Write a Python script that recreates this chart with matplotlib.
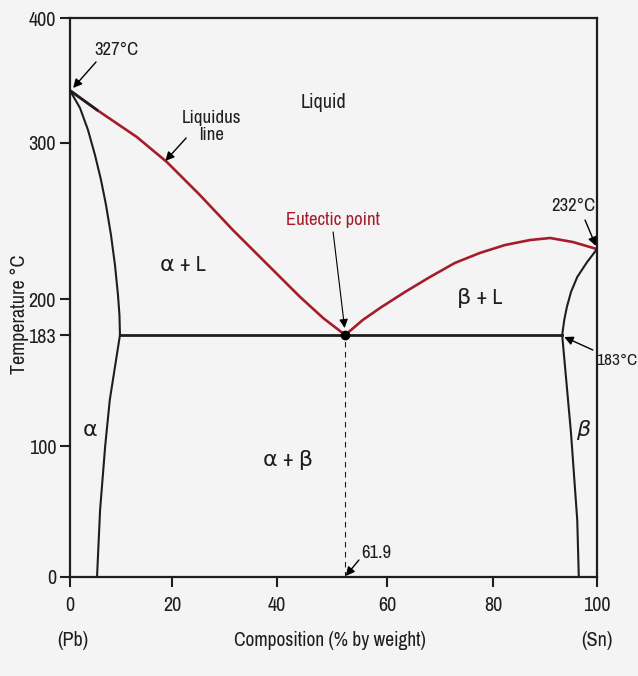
import numpy as np
import matplotlib
matplotlib.use("Agg")
import matplotlib.pyplot as plt

# tick values and where they sit on the (hand drawn, uneven) axes, as fraction of axis length
x_ticks = [0, 20, 40, 60, 80, 100]
x_frac = [0.0, 0.1935, 0.3928, 0.6015, 0.8027, 1.0]
y_ticks = [0, 100, 183, 200, 300, 400]
y_frac = [0.0, 0.2343, 0.4329, 0.4973, 0.7764, 1.0]

# phase boundaries (composition %, temperature C) as drawn
liq_left_x = [0.0, 5.3, 13.1, 19.0, 25.3, 31.6, 38.1, 44.2, 48.4, 52.4]
liq_left_y = [342, 326.4, 304.8, 287.8, 266.7, 244.2, 222.4, 201.3, 191.0, 183]
liq_right_x = [52.4, 55.6, 58.7, 63.4, 68.1, 72.8, 77.5, 82.3, 87.1, 91.0, 95.4, 100.0]
liq_right_y = [183, 190.1, 195.7, 204.5, 214.1, 223.1, 229.5, 234.6, 237.8, 239.1, 236.5, 232]
sol_left_x = [0.0, 1.96, 3.53, 4.9, 6.08, 7.06, 8.04, 8.82, 9.41, 9.7, 9.8]
sol_left_y = [342, 328, 310.4, 292.3, 276.3, 260.3, 241.0, 221.8, 202.6, 192.4, 183]
solv_left_x = [9.8, 7.8, 6.9, 5.9, 5.3]
solv_left_y = [183, 134.4, 100, 51.1, 0]
sol_right_x = [100.0, 98.1, 96.2, 95.0, 94.2, 93.7, 93.3]
sol_right_y = [232, 223.7, 214.1, 204.5, 196.2, 190.1, 183]
solv_right_x = [93.3, 95.0, 96.2, 96.5]
solv_right_y = [183, 109.7, 43.5, 0]
eut_x = 52.4
eut_t = 183


def make_scale(vals, fr):
    v = np.array(vals, float)
    f = np.array(fr, float)
    # extend ends linearly so margins don't clamp
    lo_s = (f[1] - f[0]) / (v[1] - v[0])
    hi_s = (f[-1] - f[-2]) / (v[-1] - v[-2])
    v = np.concatenate([[v[0] - 1000], v, [v[-1] + 1000]])
    f = np.concatenate([[f[0] - 1000 * lo_s], f, [f[-1] + 1000 * hi_s]])
    fwd = lambda a: np.interp(a, v, f)
    inv = lambda a: np.interp(a, f, v)
    return fwd, inv


bg = "#f4f4f4"
red = "#a51d2d"
ink = "#1e1e1e"

plt.rcParams["font.family"] = ["Archivo Narrow", "DejaVu Sans"]
plt.rcParams["font.size"] = 13.5

fig = plt.figure(figsize=(6.38, 6.76), dpi=100, facecolor=bg)
ax = fig.add_axes([70 / 638, 1 - 577 / 676, 527 / 638, 559 / 676], facecolor=bg)
ax.set_xscale("function", functions=make_scale(x_ticks, x_frac))
ax.set_yscale("function", functions=make_scale(y_ticks, y_frac))
ax.set_xlim(0, 100)
ax.set_ylim(0, 400)

lw = 1.5
ax.plot(liq_left_x, liq_left_y, color=red, lw=1.9, solid_capstyle="round", solid_joinstyle="round")
ax.plot(liq_left_x[:2], liq_left_y[:2], color=ink, lw=1.9)
ax.plot(liq_right_x, liq_right_y, color=red, lw=1.9, solid_capstyle="round", solid_joinstyle="round")
ax.plot(sol_left_x, sol_left_y, color=ink, lw=lw, solid_joinstyle="round")
ax.plot(solv_left_x, solv_left_y, color=ink, lw=lw, solid_joinstyle="round")
ax.plot(sol_right_x, sol_right_y, color=ink, lw=lw, solid_joinstyle="round")
ax.plot(solv_right_x, solv_right_y, color=ink, lw=lw, solid_joinstyle="round")
ax.plot([sol_left_x[-1], sol_right_x[-1]], [eut_t, eut_t], color=ink, lw=2)
ax.plot([eut_x, eut_x], [0, eut_t], color=ink, lw=0.8, ls=(0, (5, 4)))
ax.plot([eut_x], [eut_t], "o", color="black", ms=6, zorder=5)

arr = dict(arrowstyle="-|>", color="black", lw=1.0, mutation_scale=13, shrinkA=0, shrinkB=0)
ax.annotate("", xy=(0.6, 344), xytext=(5.1, 364.8), arrowprops=arr, annotation_clip=False)
ax.text(9.2, 374, "327°C", ha="center", va="center", color=ink)
ax.annotate("", xy=(18.7, 288.5), xytext=(22.7, 304), arrowprops=arr)
ax.text(27.6, 313, "Liquidus\nline", ha="center", va="center", color=ink,
        linespacing=1.05)
ax.text(48.4, 332, "Liquid", ha="center", va="center", color=ink, fontsize=14.5)
ax.text(50.2, 250.6, "Eutectic point", ha="center", va="center", color=red)
ax.annotate("", xy=(52.3, 186.3), xytext=(50.2, 243),
            arrowprops=dict(arr, lw=0.8))
ax.text(22.1, 221.8, "α + L", ha="center", va="center", color=ink, fontsize=16)
ax.text(77.5, 200.6, "β + L", ha="center", va="center", color=ink, fontsize=16)
ax.text(95.4, 259.6, "232°C", ha="center", va="center", color=ink)
ax.annotate("", xy=(99.8, 234), xytext=(97.7, 250.6), arrowprops=arr)
fig.text(637 / 638, 1 - 360 / 676, "183°C", ha="right", va="center", color=ink, fontsize=12.5)
ax.annotate("", xy=(93.7, 181.5), xytext=(99.2, 171.8), arrowprops=arr)
ax.text(3.9, 112, "α", ha="center", va="center", color=ink, fontsize=16)
ax.text(97.3, 112, "β", ha="center", va="center", color=ink, fontsize=16, style="italic")
ax.text(42, 89.3, "α + β", ha="center", va="center", color=ink, fontsize=16)
ax.text(55.4, 18.3, "61.9", ha="left", va="center", color=ink)
ax.annotate("", xy=(52.5, 0.8), xytext=(54.9, 13), arrowprops=arr)

ax.set_xticks(x_ticks)
ax.set_xticklabels([str(v) for v in x_ticks])
ax.set_yticks(y_ticks)
ax.set_yticklabels([str(v) for v in y_ticks])
ax.minorticks_off()
ax.tick_params(direction="out", length=7, width=1.5, colors=ink, labelsize=14.5, pad=3)
ax.tick_params(axis="x", pad=7)
for s in ax.spines.values():
    s.set_linewidth(1.6)
    s.set_color(ink)

ax.set_ylabel("Temperature °C", fontsize=14.5, color=ink)
ax.yaxis.set_label_coords(-(70 - 29) / 527, 0.47)
fig.text(330 / 638, 1 - 640 / 676, "Composition (% by weight)", ha="center", va="center",
         color=ink, fontsize=14)
fig.text(73 / 638, 1 - 640 / 676, "(Pb)", ha="center", va="center", color=ink, fontsize=14.5)
fig.text(597 / 638, 1 - 640 / 676, "(Sn)", ha="center", va="center", color=ink, fontsize=14.5)

fig.savefig("out.png", dpi=100, facecolor=bg)
